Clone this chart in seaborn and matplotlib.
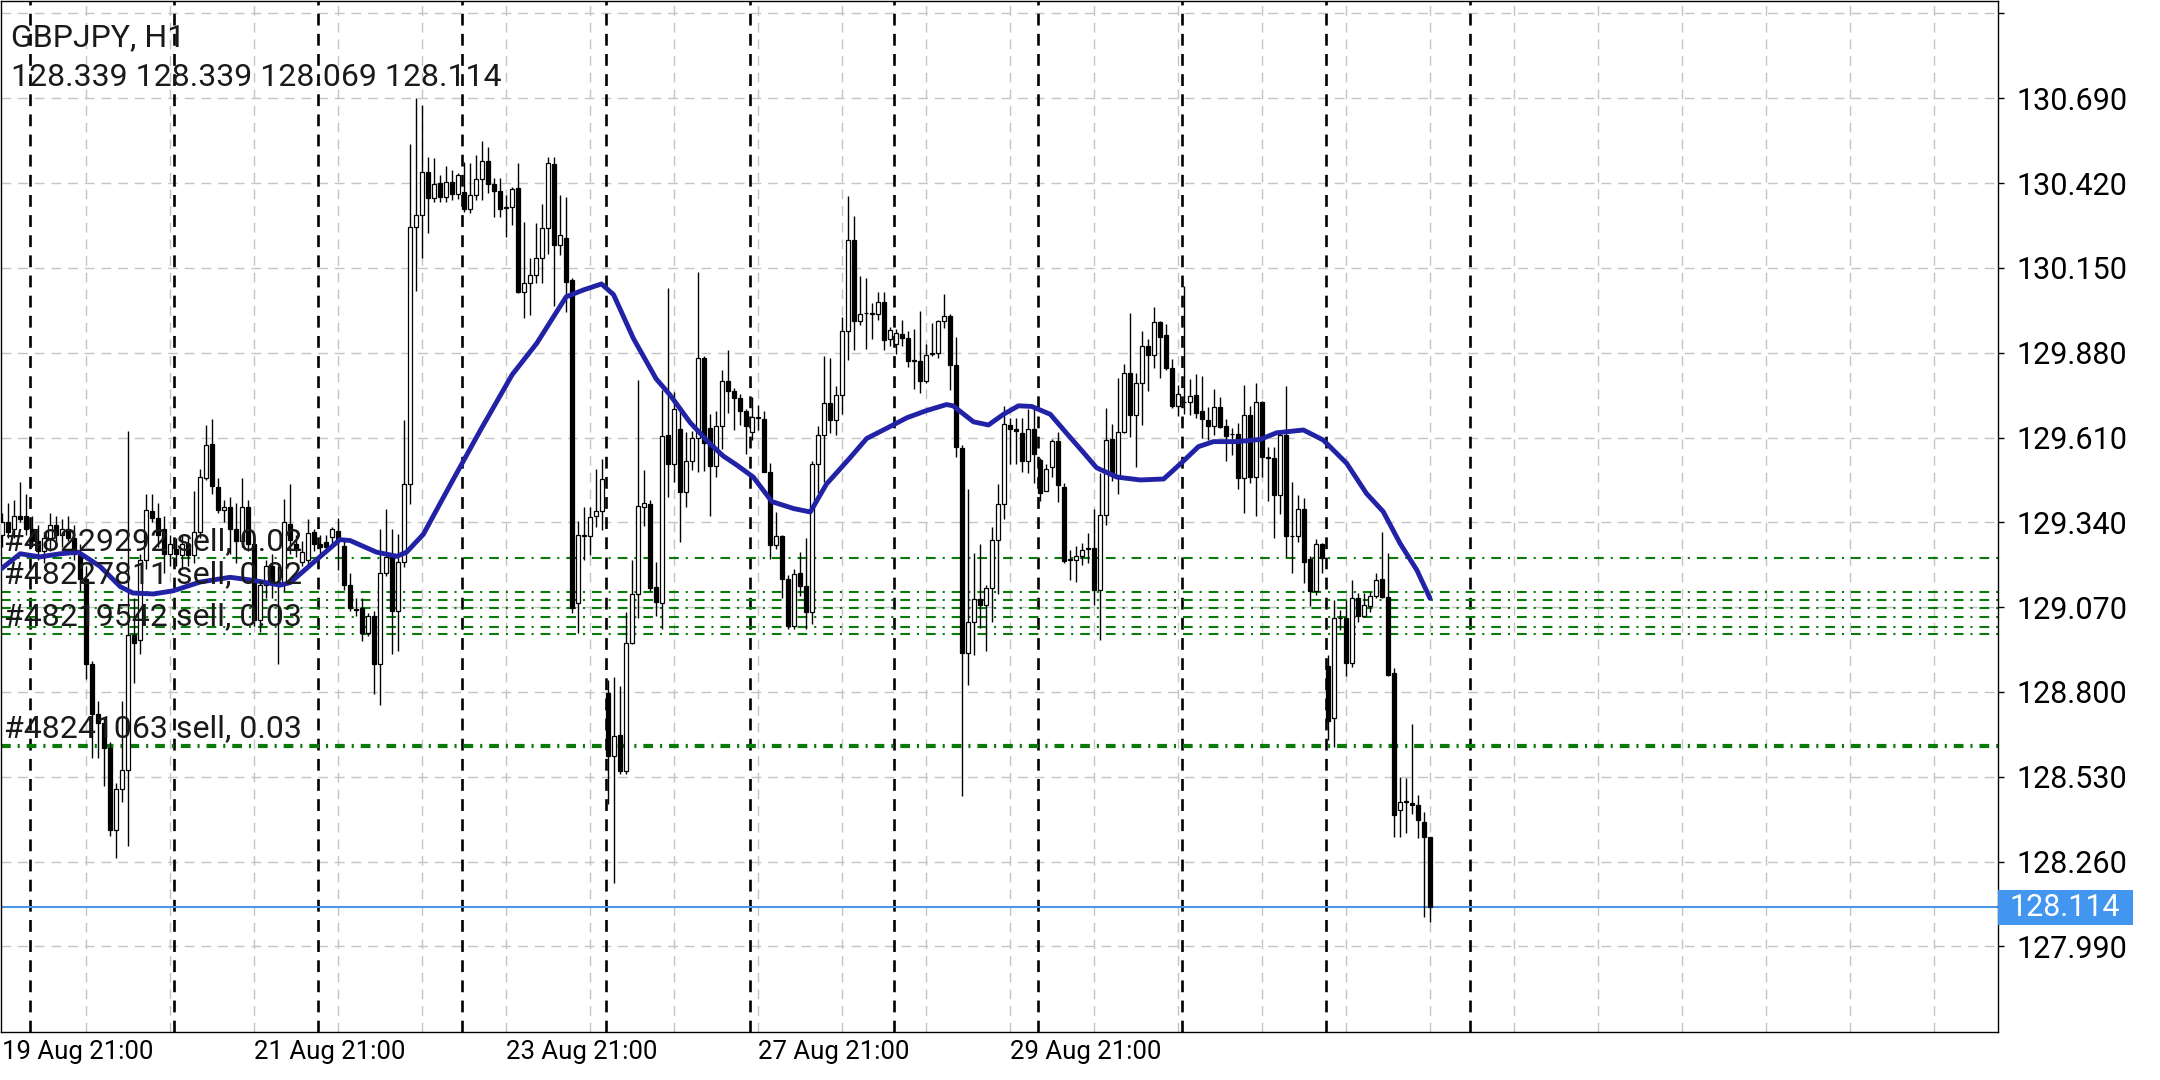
import numpy as np
import pandas as pd
import matplotlib
matplotlib.use("Agg")
import matplotlib.pyplot as plt
from matplotlib.patches import Rectangle
import seaborn as sns

# header texts
symbol_title = "GBPJPY, H1"
ohlc_header = "128.339 128.339 128.069 128.114"

# hourly candles (oldest first)
opens = [129.30, 129.34, 129.32, 129.36, 129.36, 129.32, 129.28, 129.25, 129.29, 129.33,
         129.30, 129.32, 129.29, 129.24, 129.16, 128.89, 128.73, 128.70, 128.62, 128.36,
         128.49, 128.55, 128.98, 128.965, 129.22, 129.375, 129.355, 129.32, 129.24, 129.255,
         129.235, 129.27, 129.235, 129.31, 129.48, 129.589, 129.453, 129.38, 129.39, 129.32,
         129.28, 129.39, 129.27, 129.03, 129.14, 129.20, 129.15, 129.148, 129.334, 129.27,
         129.213, 129.221, 129.31, 129.27, 129.277, 129.294, 129.313, 129.264, 129.140, 129.065,
         129.067, 128.987, 129.043, 128.89, 129.18, 129.229, 129.059, 129.213, 129.463, 130.279,
         130.320, 130.454, 130.374, 130.419, 130.377, 130.424, 130.385, 130.392, 130.339, 130.382,
         130.432, 130.490, 130.416, 130.395, 130.342, 130.343, 130.403, 130.072, 130.101, 130.129,
         130.183, 130.276, 130.480, 130.223, 130.244, 130.110, 129.082, 129.297, 129.297, 129.360,
         129.377, 128.798, 128.596, 128.664, 128.547, 128.955, 129.111, 129.390, 129.398, 129.135,
         129.082, 129.619, 129.527, 129.636, 129.438, 129.535, 129.608, 129.864, 129.640, 129.518,
         129.646, 129.790, 129.757, 129.737, 129.696, 129.629, 129.673, 129.668, 129.501, 129.267,
         129.295, 129.161, 129.011, 129.178, 129.136, 129.053, 129.525, 129.618, 129.721, 129.666,
         129.744, 129.948, 130.238, 129.982, 130.007, 130.005, 130.002, 130.043, 129.924, 129.907,
         129.941, 129.926, 129.854, 129.854, 129.790, 129.877, 129.879, 129.980, 129.996, 129.840,
         129.578, 128.925, 129.022, 129.095, 129.077, 129.131, 129.283, 129.399, 129.650, 129.636,
         129.626, 129.536, 129.636, 129.539, 129.441, 129.517, 129.600, 129.454, 129.220, 129.220,
         129.232, 129.256, 129.259, 129.125, 129.362, 129.605, 129.490, 129.627, 129.816, 129.682,
         129.784, 129.903, 129.873, 129.979, 129.937, 129.830, 129.711, 129.723, 129.724, 129.745,
         129.694, 129.666, 129.647, 129.708, 129.647, 129.620, 129.620, 129.480, 129.682, 129.483,
         129.722, 129.548, 129.544, 129.427, 129.618, 129.297, 129.297, 129.381, 129.222, 129.122,
         129.271, 128.882, 128.716, 129.034, 129.034, 128.893, 129.098, 129.041, 129.073, 129.105,
         129.161, 129.103, 128.859, 128.424, 128.450, 128.447, 128.440, 128.387, 128.339]
highs = [129.37, 129.40, 129.41, 129.47, 129.43, 129.36, 129.33, 129.31, 129.37, 129.36,
         129.35, 129.36, 129.33, 129.27, 129.20, 128.90, 128.77, 128.72, 128.64, 128.51,
         128.77, 129.63, 129.10, 129.24, 129.43, 129.43, 129.40, 129.36, 129.30, 129.29,
         129.30, 129.30, 129.44, 129.51, 129.65, 129.67, 129.48, 129.41, 129.42, 129.40,
         129.48, 129.41, 129.29, 129.15, 129.22, 129.24, 129.20, 129.415, 129.463, 129.30,
         129.28, 129.35, 129.318, 129.30, 129.30, 129.326, 129.355, 129.28, 129.18, 129.10,
         129.10, 129.05, 129.059, 129.318, 129.382, 129.318, 129.302, 129.665, 130.546, 130.691,
         130.668, 130.502, 130.499, 130.446, 130.474, 130.461, 130.451, 130.488, 130.483, 130.509,
         130.554, 130.536, 130.435, 130.435, 130.382, 130.408, 130.483, 130.297, 130.180, 130.292,
         130.352, 130.504, 130.504, 130.382, 130.377, 130.118, 129.344, 129.39, 129.39, 129.51,
         129.543, 128.839, 128.847, 128.818, 129.053, 129.219, 129.794, 129.508, 129.410, 129.215,
         129.762, 130.086, 129.754, 129.694, 129.629, 129.632, 130.138, 129.870, 129.686, 129.696,
         129.824, 129.890, 129.768, 129.748, 129.701, 129.740, 129.715, 129.696, 129.529, 129.373,
         129.300, 129.172, 129.191, 129.247, 129.289, 129.536, 129.646, 129.870, 129.862, 129.774,
         129.993, 130.380, 130.316, 130.124, 130.119, 130.037, 130.074, 130.074, 129.963, 129.957,
         129.983, 129.948, 129.955, 130.013, 129.909, 129.974, 129.985, 130.066, 130.002, 129.930,
         129.587, 129.447, 129.241, 129.271, 129.140, 129.326, 129.463, 129.709, 129.672, 129.672,
         129.672, 129.702, 129.709, 129.545, 129.526, 129.606, 129.627, 129.466, 129.253, 129.265,
         129.274, 129.305, 129.381, 129.496, 129.703, 129.652, 129.800, 129.845, 130.006, 129.816,
         129.950, 129.925, 130.025, 129.982, 129.970, 129.861, 129.776, 130.092, 129.795, 129.812,
         129.806, 129.708, 129.763, 129.740, 129.668, 129.639, 129.655, 129.777, 129.710, 129.783,
         129.725, 129.581, 129.581, 129.629, 129.774, 129.467, 129.427, 129.416, 129.233, 129.286,
         129.275, 128.917, 129.092, 129.061, 129.092, 129.158, 129.114, 129.114, 129.119, 129.179,
         129.310, 129.241, 128.875, 128.530, 128.525, 128.698, 128.472, 128.419, 128.339]
lows = [129.26, 129.29, 129.29, 129.34, 129.30, 129.26, 129.22, 129.21, 129.25, 129.27,
        129.26, 129.28, 129.22, 129.12, 128.84, 128.59, 128.59, 128.50, 128.34, 128.27,
        128.45, 128.31, 128.83, 128.92, 129.19, 129.34, 129.26, 129.18, 129.20, 129.20,
        129.19, 129.20, 129.21, 129.29, 129.475, 129.43, 129.37, 129.34, 129.24, 129.21,
        129.26, 129.25, 129.01, 128.99, 129.10, 129.10, 128.89, 129.12, 129.24, 129.23,
        129.20, 129.20, 129.25, 129.24, 129.25, 129.269, 129.189, 129.124, 129.059, 129.043,
        128.962, 128.978, 128.793, 128.76, 129.17, 128.922, 128.93, 129.197, 129.399, 130.077,
        130.18, 130.26, 130.361, 130.361, 130.36, 130.366, 130.37, 130.329, 130.324, 130.366,
        130.366, 130.387, 130.313, 130.313, 130.249, 130.286, 130.07, 129.992, 130.000, 130.103,
        130.103, 130.193, 130.030, 130.19, 130.010, 129.05, 128.988, 129.22, 129.236, 129.325,
        129.317, 128.442, 128.191, 128.539, 128.54, 128.952, 129.036, 129.328, 129.122, 129.041,
        129.001, 129.422, 129.470, 129.279, 129.390, 129.506, 129.500, 129.503, 129.360, 129.484,
        129.573, 129.688, 129.634, 129.651, 129.557, 129.601, 129.634, 129.500, 129.223, 129.256,
        129.100, 129.002, 129.002, 129.106, 129.000, 129.017, 129.434, 129.467, 129.623, 129.618,
        129.685, 129.857, 129.890, 129.968, 129.893, 129.924, 129.985, 129.890, 129.902, 129.876,
        129.902, 129.835, 129.765, 129.751, 129.785, 129.868, 129.863, 129.960, 129.762, 129.548,
        128.469, 128.822, 128.919, 129.004, 128.931, 129.022, 129.113, 129.350, 129.526, 129.526,
        129.500, 129.496, 129.466, 129.407, 129.44, 129.484, 129.405, 129.210, 129.156, 129.150,
        129.204, 129.210, 129.077, 128.967, 129.332, 129.472, 129.429, 129.624, 129.612, 129.517,
        129.650, 129.757, 129.830, 129.800, 129.824, 129.703, 129.678, 129.684, 129.682, 129.671,
        129.607, 129.602, 129.618, 129.639, 129.536, 129.554, 129.445, 129.371, 129.466, 129.360,
        129.485, 129.409, 129.289, 129.366, 129.229, 129.180, 129.279, 129.146, 129.074, 129.109,
        129.180, 128.647, 128.625, 128.997, 128.850, 128.880, 129.023, 129.039, 129.053, 129.098,
        129.098, 128.850, 128.339, 128.339, 128.350, 128.410, 128.334, 128.084, 128.069]
closes = [129.34, 129.31, 129.36, 129.35, 129.32, 129.28, 129.25, 129.29, 129.33, 129.30,
          129.32, 129.29, 129.24, 129.16, 128.89, 128.73, 128.70, 128.62, 128.36, 128.49,
          128.55, 128.98, 128.955, 129.22, 129.38, 129.355, 129.30, 129.24, 129.27, 129.24,
          129.27, 129.235, 129.31, 129.485, 129.586, 129.455, 129.38, 129.39, 129.32, 129.28,
          129.39, 129.27, 129.03, 129.14, 129.20, 129.15, 129.14, 129.34, 129.285, 129.253,
          129.245, 129.305, 129.27, 129.26, 129.261, 129.318, 129.285, 129.140, 129.067, 129.062,
          128.987, 129.043, 128.89, 129.18, 129.229, 129.059, 129.213, 129.463, 130.279, 130.32,
          130.454, 130.374, 130.416, 130.377, 130.422, 130.384, 130.446, 130.339, 130.382, 130.432,
          130.490, 130.417, 130.395, 130.339, 130.343, 130.400, 130.072, 130.101, 130.129, 130.183,
          130.276, 130.483, 130.223, 130.255, 130.106, 129.066, 129.300, 129.297, 129.357, 129.377,
          129.478, 128.596, 128.661, 128.547, 128.955, 129.111, 129.393, 129.400, 129.130, 129.085,
          129.616, 129.527, 129.700, 129.438, 129.535, 129.608, 129.864, 129.592, 129.519, 129.646,
          129.790, 129.757, 129.737, 129.696, 129.646, 129.676, 129.675, 129.501, 129.267, 129.295,
          129.161, 129.011, 129.176, 129.136, 129.053, 129.525, 129.618, 129.721, 129.666, 129.744,
          129.948, 130.238, 129.982, 130.004, 130.005, 130.003, 130.040, 129.921, 129.952, 129.944,
          129.926, 129.855, 129.856, 129.790, 129.874, 129.880, 129.980, 129.996, 129.840, 129.579,
          128.925, 129.022, 129.095, 129.077, 129.131, 129.283, 129.399, 129.654, 129.636, 129.630,
          129.536, 129.636, 129.557, 129.432, 129.511, 129.600, 129.460, 129.217, 129.221, 129.232,
          129.253, 129.257, 129.125, 129.362, 129.603, 129.490, 129.627, 129.816, 129.682, 129.784,
          129.903, 129.873, 129.979, 129.930, 129.830, 129.711, 129.748, 129.722, 129.742, 129.689,
          129.668, 129.647, 129.706, 129.645, 129.615, 129.621, 129.480, 129.682, 129.483, 129.722,
          129.549, 129.546, 129.427, 129.618, 129.297, 129.296, 129.381, 129.215, 129.122, 129.271,
          129.225, 128.708, 129.034, 129.035, 128.893, 129.098, 129.041, 129.077, 129.106, 129.158,
          129.103, 128.854, 128.408, 128.451, 128.451, 128.440, 128.392, 128.339, 128.114]

# moving average, read at bar positions
ma_bars = [-0.3, 3, 6.3, 9.7, 12.7, 16.3, 19.7, 21.8, 25.2, 28.5, 33, 38, 42, 46.3, 48,
           52.4, 56.3, 58, 62.4, 65.8, 67.4, 70.2, 74.7, 79.7, 85, 89.1, 94, 96.9, 99.9,
           101.9, 105.2, 109, 111.3, 114.7, 118, 120.2, 122.4, 125.2, 128.3, 131.9, 134.7,
           137.4, 141.3, 144.1, 148.6, 150.8, 154.1, 157.4, 158.5, 161.9, 164.4, 166.9, 169.4,
           171.6, 174.7, 177.4, 180.2, 182.4, 185.8, 189.7, 193.6, 196.6, 199.4, 201.9, 205.8,
           209.7, 212.4, 216.9, 220.2, 224.1, 227.4, 230.2, 233, 235.8, 238]
ma_values = [129.19, 129.24, 129.23, 129.24, 129.245, 129.20, 129.135, 129.115, 129.112, 129.122,
             129.15, 129.165, 129.155, 129.14, 129.148, 129.221, 129.285, 129.282, 129.245, 129.232,
             129.245, 129.302, 129.46, 129.633, 129.81, 129.91, 130.058, 130.08, 130.099, 130.065,
             129.926, 129.797, 129.746, 129.657, 129.59, 129.551, 129.523, 129.484, 129.406, 129.384,
             129.373, 129.462, 129.545, 129.607, 129.651, 129.673, 129.696, 129.715, 129.711, 129.66,
             129.65, 129.684, 129.711, 129.709, 129.684, 129.624, 129.563, 129.514, 129.484, 129.475,
             129.478, 129.53, 129.581, 129.597, 129.597, 129.604, 129.625, 129.634, 129.602, 129.528,
             129.432, 129.374, 129.273, 129.188, 129.098]

# open sell orders
trade_levels = [129.225, 129.118, 129.092, 129.066, 129.038, 129.008, 128.984, 128.627]
label_levels = [129.225, 129.118, 128.984, 128.627]
label_texts = ["#48229292 sell, 0.02", "#48227811 sell, 0.02",
               "#48219542 sell, 0.03", "#48241063 sell, 0.03"]

current_price = 128.114
price_ticks = [127.990, 128.260, 128.530, 128.800, 129.070, 129.340,
               129.610, 129.880, 130.150, 130.420, 130.690, 130.960]
date_ticks = [0, 42, 84, 126, 168]
date_labels = ["19 Aug 21:00", "21 Aug 21:00", "23 Aug 21:00", "27 Aug 21:00", "29 Aug 21:00"]

sns.set_style("white")
plt.rcParams["font.family"] = ["Roboto", "DejaVu Sans"]
plt.rcParams["lines.scale_dashes"] = False

fig = plt.figure(figsize=(21.6, 10.8), dpi=100)
ax = fig.add_axes([0.00046, 0.04444, 0.92454, 0.95426])
ax.set_xlim(-0.2, 332.67)
ax.set_ylim(127.7174, 130.9985)

# grid and day separators
for p in price_ticks:
    ax.axhline(p, color="#c4c4c4", lw=1.0, ls=(0, (7, 5)), zorder=0)
for g in np.arange(14, 333, 14):
    ax.axvline(g, color="#c4c4c4", lw=1.0, ls=(0, (7, 5)), zorder=0)
for s in np.arange(4.67, 245, 24):
    ax.axvline(s, color="black", lw=1.9, ls=(0, (8.5, 6)), zorder=1)

# order lines
for i, lvl in enumerate(trade_levels):
    thick = i == len(trade_levels) - 1
    ax.axhline(lvl, color="#0a7a0a", lw=3.0 if thick else 1.5,
               ls=(0, (7, 5, 1.5, 5)), zorder=2)

# current price line
ax.axhline(current_price, color="#4a95e6", lw=1.5, zorder=2)

# candles
df = pd.DataFrame({"open": opens, "high": highs, "low": lows, "close": closes})
df["bar"] = np.arange(len(df))
up = df["close"] >= df["open"]
ax.vlines(df["bar"], df["low"], df["high"], color="black", lw=1.0, zorder=3)
body_low = df[["open", "close"]].min(axis=1)
body_h = (df["close"] - df["open"]).abs().clip(lower=0.002)
ax.bar(df["bar"], body_h, bottom=body_low, width=0.62,
       color=np.where(up, "white", "black"), edgecolor="black", linewidth=0.9, zorder=4)

# moving average
sns.lineplot(x=ma_bars, y=ma_values, ax=ax, color="#2222a6", linewidth=3.5,
             estimator=None, sort=False, zorder=6)

# order labels
for lvl, txt in zip(label_levels, label_texts):
    ax.annotate(txt, xy=(0, lvl), xycoords=ax.get_yaxis_transform(),
                xytext=(2, 2), textcoords="offset points",
                ha="left", va="bottom", fontsize=23, color="#1a1a1a", zorder=7)

# axes styling
for sp in ax.spines.values():
    sp.set_visible(True)
    sp.set_color("black")
    sp.set_linewidth(1.0)
ax.yaxis.tick_right()
ax.set_yticks(price_ticks)
ax.set_yticklabels([f"{p:.3f}" for p in price_ticks[:-1]] + [""])
ax.tick_params(axis="y", direction="out", length=4, width=1, pad=9,
               labelsize=22, colors="black")
ax.set_xticks(date_ticks)
ax.set_xticklabels(date_labels, ha="left")
ax.tick_params(axis="x", direction="out", length=3, width=1, pad=3,
               labelsize=18.5, colors="black")
ax.set_xlabel("")
ax.set_ylabel("")

# current price tag
ax.add_patch(Rectangle((1.0, current_price - 0.0545), 135 / 1997, 0.109,
                       transform=ax.get_yaxis_transform(), clip_on=False,
                       facecolor="#4296ef", edgecolor="none", zorder=8))
ax.text(1.0 + 67 / 1997, current_price, f"{current_price:.3f}",
        transform=ax.get_yaxis_transform(), ha="center", va="center",
        fontsize=22, color="white", zorder=9, clip_on=False)

# header
fig.text(0.0051, 0.9655, symbol_title, fontsize=23, color="#1a1a1a", va="center")
fig.text(0.0051, 0.9285, ohlc_header, fontsize=23, color="#1a1a1a", va="center")

fig.savefig("out.png", dpi=100)
